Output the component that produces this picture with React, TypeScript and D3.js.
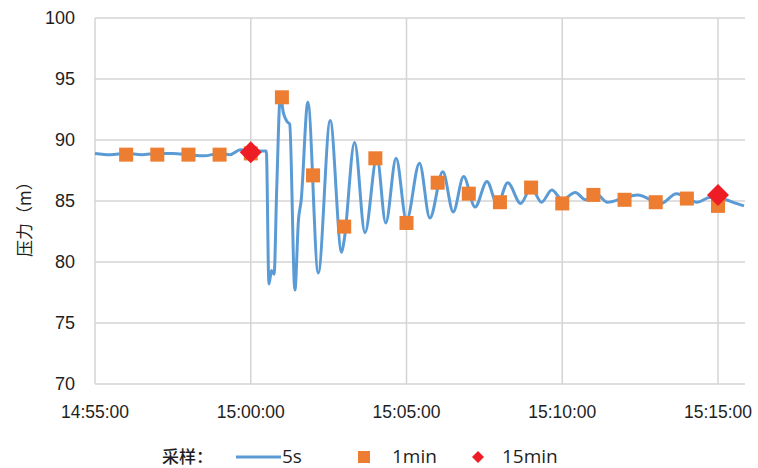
import React from "react";
import * as d3 from "d3";

const line5s: [string, number][] = [
  ["14:55:00", 88.9], ["14:55:30", 88.8], ["14:56:00", 88.9], ["14:56:30", 88.8],
  ["14:57:00", 88.9], ["14:57:30", 88.9], ["14:58:00", 88.8], ["14:58:30", 88.7],
  ["14:59:00", 88.9], ["14:59:20", 88.8], ["14:59:40", 89.2], ["15:00:00", 89.1],
  ["15:00:20", 89.1], ["15:00:30", 89.1], ["15:00:35", 78.2], ["15:00:40", 79.3],
  ["15:00:45", 79.0], ["15:00:50", 86.0], ["15:00:57", 93.6], ["15:01:03", 92.2],
  ["15:01:10", 91.5], ["15:01:15", 91.3], ["15:01:25", 77.7], ["15:01:32", 83.5],
  ["15:01:37", 85.0], ["15:01:50", 93.1], ["15:02:10", 79.1], ["15:02:33", 91.6],
  ["15:02:55", 80.8], ["15:03:00", 81.8], ["15:03:20", 89.8], ["15:03:40", 82.4],
  ["15:04:03", 88.6], ["15:04:20", 83.2], ["15:04:40", 88.5], ["15:05:00", 83.4],
  ["15:05:25", 88.1], ["15:05:45", 83.6], ["15:06:10", 87.4], ["15:06:30", 84.1],
  ["15:06:50", 87.0], ["15:07:12", 84.5], ["15:07:35", 86.6], ["15:07:55", 84.7],
  ["15:08:15", 86.5], ["15:08:40", 84.8], ["15:09:00", 86.1], ["15:09:20", 84.9],
  ["15:09:40", 85.9], ["15:10:00", 85.1], ["15:10:25", 85.7], ["15:10:45", 85.1],
  ["15:11:05", 85.6], ["15:11:27", 84.9], ["15:11:55", 85.2], ["15:12:25", 85.5],
  ["15:13:10", 84.8], ["15:13:40", 85.6], ["15:14:20", 84.9], ["15:14:45", 85.3],
  ["15:15:15", 85.1], ["15:15:35", 84.8], ["15:15:50", 84.6],
];

// 1 min samples
const min1Times = [
  "14:56:00", "14:57:00", "14:58:00", "14:59:00", "15:00:00", "15:01:00", "15:02:00",
  "15:03:00", "15:04:00", "15:05:00", "15:06:00", "15:07:00", "15:08:00", "15:09:00",
  "15:10:00", "15:11:00", "15:12:00", "15:13:00", "15:14:00", "15:15:00",
];
const min1Values = [
  88.8, 88.8, 88.8, 88.8, 88.9, 93.5, 87.1, 82.9, 88.5, 83.2, 86.5, 85.6, 84.9, 86.1,
  84.8, 85.5, 85.1, 84.9, 85.2, 84.6,
];

// 15 min samples
const min15Times = ["15:00:00", "15:15:00"];
const min15Values = [89.0, 85.5];

const xTicks = ["14:55:00", "15:00:00", "15:05:00", "15:10:00", "15:15:00"];
const yTicks = [70, 75, 80, 85, 90, 95, 100];
const xDomain = ["14:55:00", "15:15:52"];

const W = 758, H = 468;
const M = { left: 95, right: 13, top: 18, bottom: 84 };

const parse = d3.timeParse("%H:%M:%S");

export default function App() {
  const x = d3
    .scaleTime()
    .domain([parse(xDomain[0])!, parse(xDomain[1])!])
    .range([M.left, W - M.right]);
  const y = d3.scaleLinear().domain([70, 100]).range([H - M.bottom, M.top]);

  const lineGen = d3
    .line<[string, number]>()
    .x((d) => x(parse(d[0])!))
    .y((d) => y(d[1]))
    .curve(d3.curveMonotoneX);

  const gridColor = "#d4d4d4";
  const textColor = "#1e1e1e";
  const numFont = "'Liberation Sans', Arial, sans-serif";
  const legFont = "'Open Sans', sans-serif";
  const cjkFont = "'Noto Sans CJK SC', sans-serif";
  const sq = 14;
  const dm = 11;

  const diamond = (cx: number, cy: number, r: number) =>
    `M${cx},${cy - r}L${cx + r},${cy}L${cx},${cy + r}L${cx - r},${cy}Z`;

  return (
    <svg
      width={W}
      height={H}
      style={{ position: "absolute", left: 0, top: 0, background: "#fff" }}
    >
      <rect x={0} y={0} width={W} height={H} fill="#fff" />
      {yTicks.map((t) => (
        <line
          key={"gy" + t}
          x1={M.left}
          x2={W - M.right}
          y1={y(t)}
          y2={y(t)}
          stroke={gridColor}
          strokeWidth={1.5}
        />
      ))}
      {xTicks.map((t) => (
        <line
          key={"gx" + t}
          x1={x(parse(t)!)}
          x2={x(parse(t)!)}
          y1={M.top}
          y2={H - M.bottom}
          stroke={gridColor}
          strokeWidth={1.5}
        />
      ))}
      {yTicks.map((t) => (
        <text
          key={"ty" + t}
          x={75}
          y={y(t)}
          dy="0.35em"
          textAnchor="end"
          fontFamily={numFont}
          fontSize={18}
          fill={textColor}
        >
          {t}
        </text>
      ))}
      {xTicks.map((t) => (
        <text
          key={"tx" + t}
          x={x(parse(t)!)}
          y={418}
          textAnchor="middle"
          fontFamily={numFont}
          fontSize={17.5}
          fill={textColor}
        >
          {t}
        </text>
      ))}
      <text
        transform={`translate(31,215) rotate(-90)`}
        textAnchor="middle"
        fontFamily={cjkFont}
        fontSize={17}
        fill={textColor}
      >
        压力（m）
      </text>

      <path
        d={lineGen(line5s) || ""}
        fill="none"
        stroke="#5B9BD5"
        strokeWidth={3}
        strokeLinejoin="round"
      />
      {min1Times.map((t, i) => (
        <rect
          key={"s" + t}
          x={x(parse(t)!) - sq / 2}
          y={y(min1Values[i]) - sq / 2}
          width={sq}
          height={sq}
          fill="#ED7D31"
        />
      ))}
      {min15Times.map((t, i) => (
        <path
          key={"d" + t}
          d={diamond(x(parse(t)!), y(min15Values[i]), dm)}
          fill="#EE1C25"
        />
      ))}

      <g fill={textColor}>
        <text x={162} y={463} fontFamily={cjkFont} fontSize={17} fontWeight={500}>
          采样：
        </text>
        <line x1={236} x2={281} y1={457} y2={457} stroke="#5B9BD5" strokeWidth={3} />
        <text x={282} y={463} fontFamily={legFont} fontSize={19}>
          5s
        </text>
        <rect x={358} y={451} width={12} height={12} fill="#ED7D31" />
        <text x={392} y={463} fontFamily={legFont} fontSize={19}>
          1min
        </text>
        <path d={diamond(478, 457, 6)} fill="#EE1C25" />
        <text x={502} y={463} fontFamily={legFont} fontSize={19}>
          15min
        </text>
      </g>
    </svg>
  );
}
